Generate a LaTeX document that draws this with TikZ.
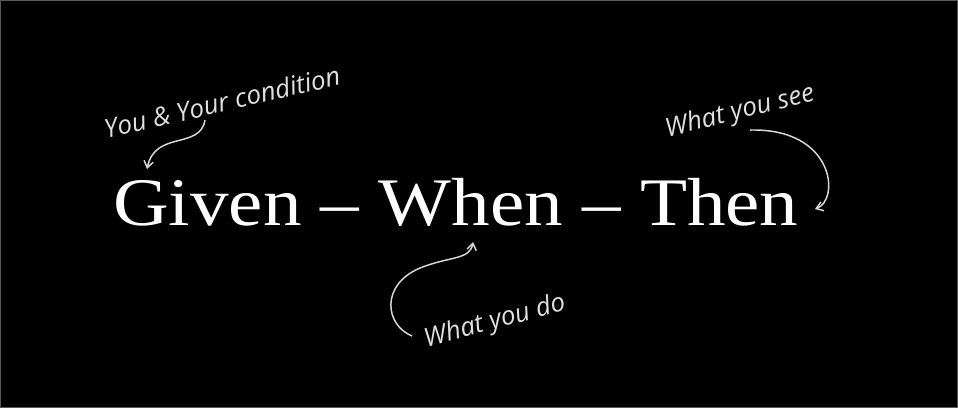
\documentclass[tikz,border=0pt]{standalone}
\usepackage{fontspec}
\setmainfont{Liberation Serif}
\newfontfamily\hand{Open Sans}
\usetikzlibrary{arrows.meta}
\begin{document}
\begin{tikzpicture}[x=0.75pt,y=-0.75pt,
  title/.style={text=white,font=\fontsize{51}{60}\selectfont,inner sep=0pt,anchor=base west},
  note/.style={text=white!88!black,font=\hand\itshape\fontsize{19.5}{22}\selectfont,inner sep=0pt},
  hint/.style={draw=white!85!black,line width=1.1pt,-{Straight Barb[length=5pt,width=7pt]}}]
\fill[black] (0,0) rectangle (958,408);
\draw[gray!70!black,line width=0.8pt] (0.5,0.5) rectangle (957.5,407.5);
\useasboundingbox (0,0) rectangle (958,408);
\node[title] (gwt) at (113,225) {\scalebox{1.134}[1]{Given – When – Then}};
\node[note,rotate=13] (cond) at (222,102) {You \& Your condition};
\node[note,rotate=14] (see) at (740,112) {What you see};
\node[note,rotate=15] (do) at (495,322) {What you do};
\coordinate (c1s) at (205,120);
\coordinate (c1e) at (147,169);
\coordinate (c2s) at (750,130);
\coordinate (c2e) at (815,209);
\coordinate (c3s) at (412,336);
\coordinate (c3m) at (420,268);
\coordinate (c3e) at (473,242);
\draw[hint] (c1s) .. controls (200,150) and (155,130) .. (c1e);
\draw[hint] (c2s) .. controls (835,128) and (840,200) .. (c2e);
\draw[hint] (c3s) .. controls (385,325) and (380,285) .. (c3m) .. controls (450,256) and (470,260) .. (c3e);
\end{tikzpicture}
\end{document}
